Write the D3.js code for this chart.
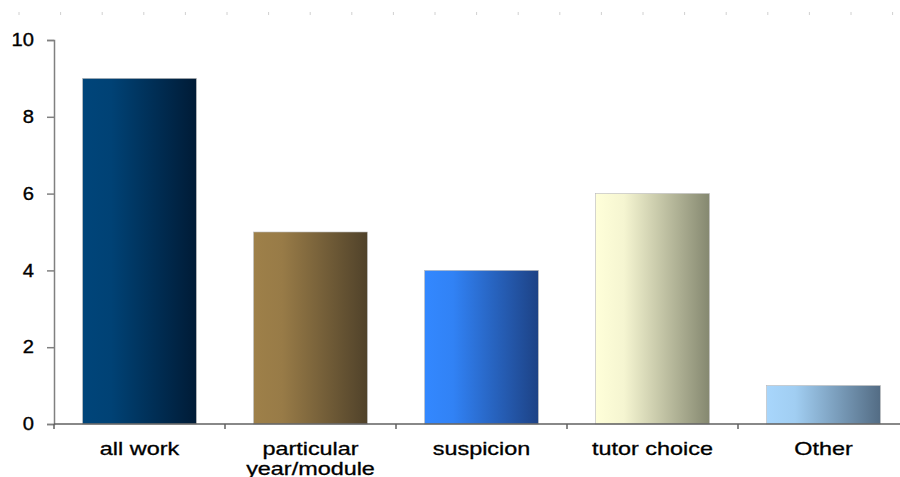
<!DOCTYPE html>
<html>
<head>
<meta charset="utf-8">
<script src="https://cdn.jsdelivr.net/npm/d3@7"></script>
<style>
  body { margin: 0; background: #fff; }
  text { font-family: "Liberation Sans", Arial, sans-serif; }
</style>
</head>
<body>
<div id="chart"></div>
<script>
// Chart data
const categories = ['all work', 'particular\nyear/module', 'suspicion', 'tutor choice', 'Other']
const values = [9, 5, 4, 6, 1]
const yTicks = [0, 2, 4, 6, 8, 10]
// gradient colours per bar: [light, dark]
const barColours = [
  ['#00457a', '#001b36'],
  ['#9e8049', '#50422a'],
  ['#3388ff', '#1d4285'],
  ['#ffffd9', '#858870'],
  ['#a8d6fc', '#536c84']
]

const width = 900
const height = 477
const margin = { top: 40, right: -9, bottom: 53, left: 54 }

const svg = d3.select('#chart')
  .append('svg')
  .attr('width', width)
  .attr('height', height)

const x = d3.scaleBand()
  .domain(categories)
  .range([margin.left, width - margin.right])
  .paddingInner(0.335)
  .paddingOuter(0.1675)

const y = d3.scaleLinear()
  .domain([0, 10])
  .range([height - margin.bottom, margin.top])

// gradients
const defs = svg.append('defs')
barColours.forEach((c, i) => {
  const g = defs.append('linearGradient')
    .attr('id', 'grad' + i)
    .attr('x1', '0%').attr('x2', '100%')
    .attr('y1', '0%').attr('y2', '0%')
  g.append('stop').attr('offset', '0%').attr('stop-color', c[0])
  g.append('stop').attr('offset', '25%').attr('stop-color', d3.interpolateRgb(c[0], c[1])(0.08))
  g.append('stop').attr('offset', '100%').attr('stop-color', c[1])
})

// faint marks along the top edge
const topMarks = d3.range(19, 900, 41.6)
svg.append('g')
  .selectAll('line')
  .data(topMarks)
  .join('line')
  .attr('x1', d => d).attr('x2', d => d)
  .attr('y1', 12).attr('y2', 15)
  .attr('stroke', '#d0d0d0')
  .attr('stroke-width', 1)

// bars
svg.append('g')
  .selectAll('rect')
  .data(values)
  .join('rect')
  .attr('x', (d, i) => x(categories[i]))
  .attr('y', d => y(d))
  .attr('width', x.bandwidth())
  .attr('height', d => y(0) - y(d))
  .attr('fill', (d, i) => 'url(#grad' + i + ')')
  .attr('stroke', '#b8b8b8')
  .attr('stroke-width', 0.6)

// y axis
const yAxis = svg.append('g')
  .attr('transform', 'translate(' + margin.left + ',0)')
  .call(d3.axisLeft(y).tickValues(yTicks).tickSize(7).tickPadding(12))
yAxis.select('.domain').attr('stroke', '#808080').attr('stroke-width', 1.5)
yAxis.selectAll('.tick line').attr('stroke', '#808080').attr('stroke-width', 1.5)
yAxis.selectAll('.tick text')
  .attr('x', -20 / 1.12)
  .attr('transform', 'scale(1.12,1)')
  .attr('font-size', 18)
  .attr('fill', '#000')
  .attr('stroke', '#000')
  .attr('stroke-width', 0.35)
  .style('font-family', '"Liberation Sans", Arial, sans-serif')

// x axis
const xAxis = svg.append('g')
  .attr('transform', 'translate(0,' + y(0) + ')')
xAxis.append('line')
  .attr('x1', margin.left).attr('x2', width)
  .attr('y1', 0).attr('y2', 0)
  .attr('stroke', '#606060').attr('stroke-width', 1.5)
const bounds = categories.map(c => x(c) - x.step() * x.paddingInner() / 2)
bounds.push(bounds[bounds.length - 1] + x.step())
xAxis.selectAll('line.tick')
  .data(bounds)
  .join('line')
  .attr('class', 'tick')
  .attr('x1', d => d).attr('x2', d => d)
  .attr('y1', 0).attr('y2', 5)
  .attr('stroke', '#606060').attr('stroke-width', 1.5)

const labels = xAxis.selectAll('text.cat')
  .data(categories)
  .join('text')
  .attr('class', 'cat')
  .attr('text-anchor', 'middle')
  .attr('font-size', 18)
  .attr('fill', '#000')
  .attr('stroke', '#000')
  .attr('stroke-width', 0.3)
  .attr('transform', d => 'translate(' + (x(d) + x.bandwidth() / 2) + ',31) scale(1.3,1)')
labels.selectAll('tspan')
  .data(d => d.split('\n'))
  .join('tspan')
  .attr('x', 0)
  .attr('dy', (d, i) => i === 0 ? 0 : 20)
  .text(d => d)
</script>
</body>
</html>
